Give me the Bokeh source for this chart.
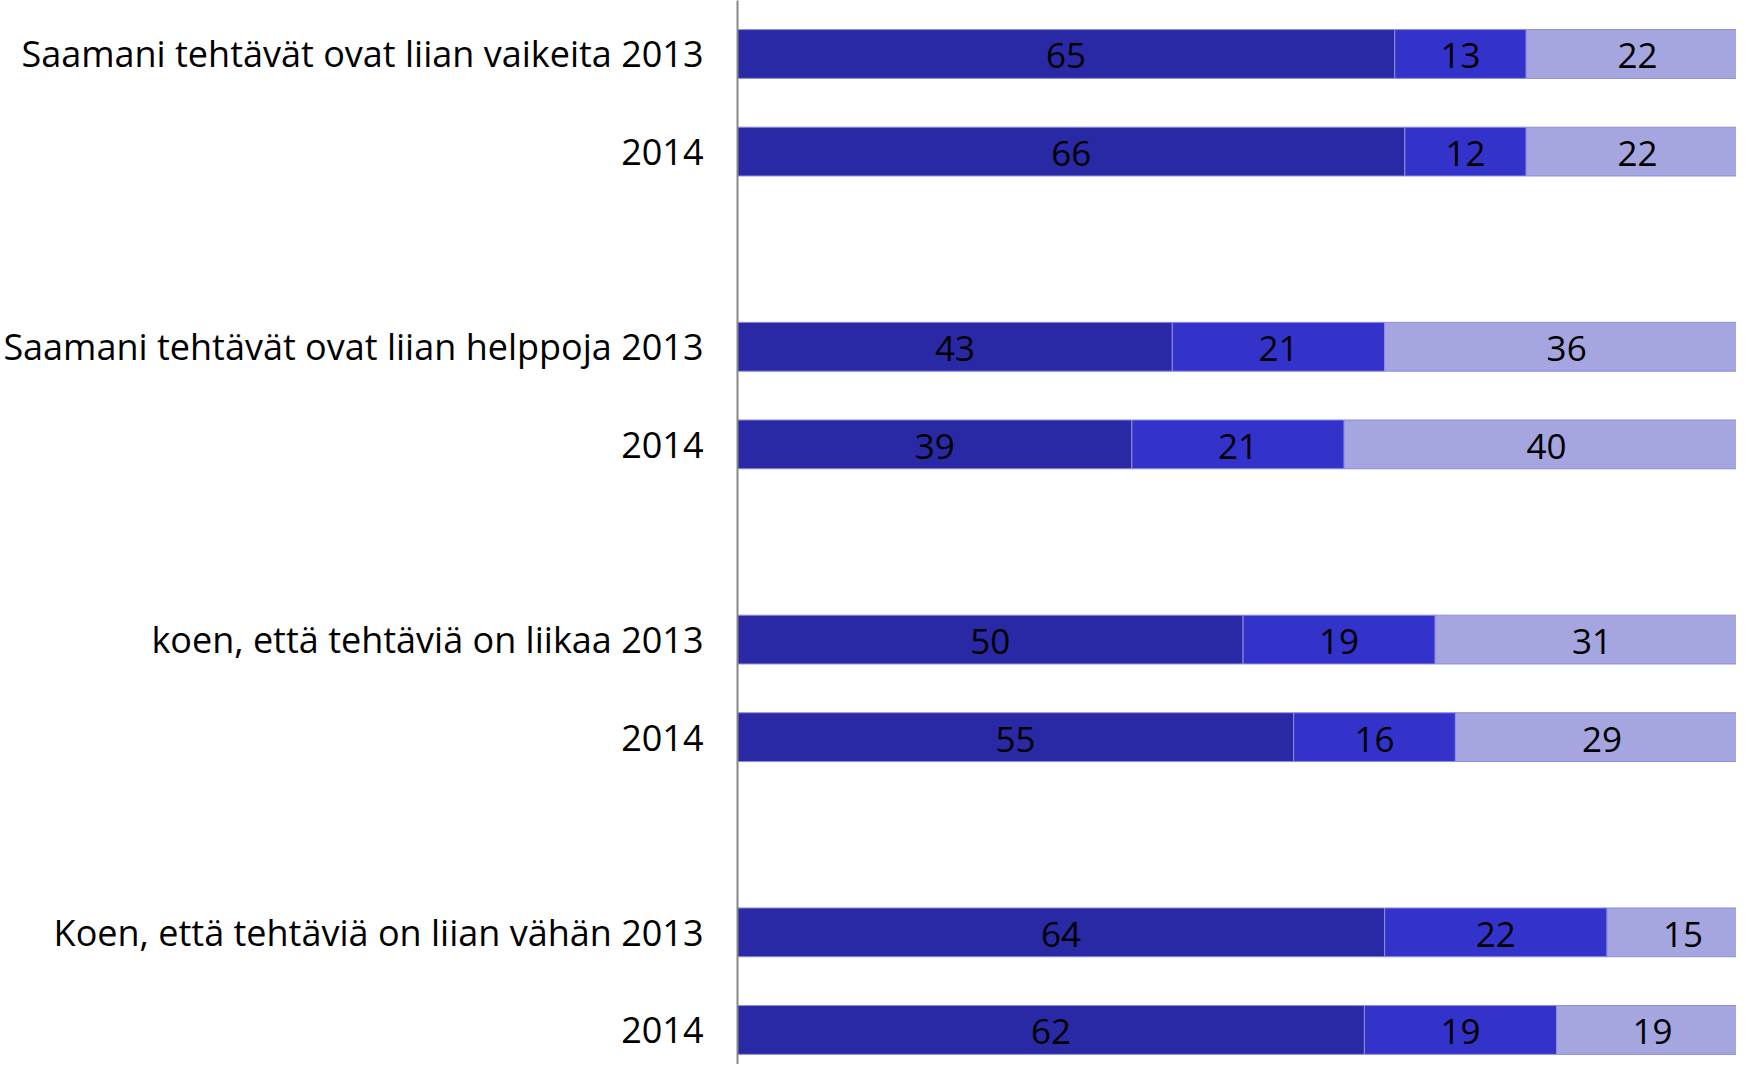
from bokeh.plotting import figure
from bokeh.models import Range1d, ColumnDataSource, FixedTicker
from bokeh.core.properties import value
from bokeh.embed import file_html
from bokeh.resources import INLINE

# ---- data ----
row_labels = [
    "Saamani tehtävät ovat liian vaikeita 2013", "2014",
    "Saamani tehtävät ovat liian helppoja 2013", "2014",
    "koen, että tehtäviä on liikaa 2013", "2014",
    "Koen, että tehtäviä on liian vähän 2013", "2014",
]
part1 = [65, 66, 43, 39, 50, 55, 64, 62]
part2 = [13, 12, 21, 21, 19, 16, 22, 19]
part3 = [22, 22, 36, 40, 31, 29, 15, 19]

colors = ["#2929A6", "#3333CC", "#A5A5E0"]

# row positions: two rows per group, one empty slot between groups
ypos = [(i // 2) * 3 + (i % 2) for i in range(len(row_labels))]

p = figure(width=1736, height=1064, output_backend="svg", toolbar_location=None,
           x_range=Range1d(0, 98.8), y_range=Range1d(10.354, -0.548),
           min_border_left=737, min_border_right=0, min_border_top=0, min_border_bottom=0)

starts = [0] * len(part1)
for vals, col in zip([part1, part2, part3], colors):
    lefts = starts
    rights = [a + b for a, b in zip(lefts, vals)]
    src = ColumnDataSource(dict(y=ypos, left=lefts, right=rights,
                                mid=[(a + b) / 2 for a, b in zip(lefts, rights)],
                                lab=[str(v) for v in vals]))
    p.hbar(y="y", left="left", right="right", height=0.5, source=src,
           fill_color=col, line_color="#8c8ce0", line_width=1)
    p.text(x="mid", y="y", text="lab", source=src, text_align="center",
           text_baseline="middle", text_font=value("Open Sans"),
           text_font_size="35px", text_color="black", y_offset=2)
    starts = rights

p.xaxis.visible = False
p.xgrid.visible = False
p.ygrid.visible = False
p.outline_line_color = None

ax = p.yaxis[0]
ax.ticker = FixedTicker(ticks=ypos)
ax.major_label_overrides = {y: lab for y, lab in zip(ypos, row_labels)}
ax.major_tick_line_color = None
ax.minor_tick_line_color = None
ax.major_label_standoff = 28
ax.axis_line_color = "#888888"
ax.axis_line_width = 2
ax.major_label_text_font = "Open Sans"
ax.major_label_text_font_size = "36px"
ax.major_label_text_color = "black"

open("out.html", "w").write(file_html(p, INLINE))
